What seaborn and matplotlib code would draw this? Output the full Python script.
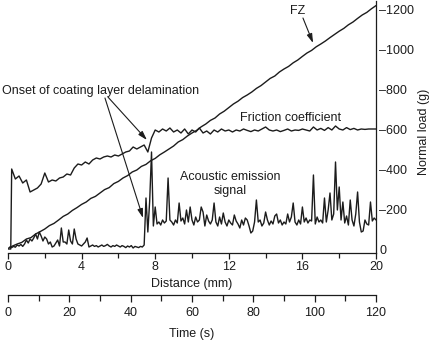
import numpy as np
import matplotlib
matplotlib.use("Agg")
import matplotlib.pyplot as plt
from matplotlib.ticker import MultipleLocator, FixedLocator
import seaborn as sns

# ---------------- data ----------------
# Normal load FZ (g), sampled every 0.25 mm from 0 to 20 mm
fz_dist = np.arange(0, 20.001, 0.25)
fz_load = [8, 20, 30, 38, 55, 62, 80, 92, 105, 122, 133, 150, 168, 180, 198, 212,
           228, 240, 258, 268, 285, 302, 312, 332, 343, 360, 372, 390, 400, 418,
           428, 446, 458, 476, 490, 505, 520, 540, 552, 570, 585, 598, 616, 630,
           648, 660, 680, 694, 712, 730, 744, 762, 775, 790, 808, 822, 840, 858,
           870, 890, 905, 918, 936, 950, 968, 985, 998, 1016, 1030, 1045, 1062,
           1078, 1094, 1108, 1126, 1140, 1158, 1175, 1188, 1206, 1222]

# Friction coefficient trace (plotted on the load scale)
fr_dist = [0.0, 0.15] + list(np.round(np.arange(0.2, 20.001, 0.2), 2))
fr_val = [5, 5,
          405, 355, 370, 335, 350, 290, 300, 310, 330, 385,
          340, 350, 345, 360, 365, 380, 375, 410, 430, 425,
          440, 430, 450, 460, 455, 465, 470, 465, 475, 470,
          480, 490, 495, 515, 505, 515, 525, 490, 560, 600,
          590, 605, 595, 610, 590, 600, 585, 605, 580, 600,
          590, 610, 585, 595, 580, 600, 590, 605, 595, 600,
          590, 600, 595, 605, 598, 592, 600, 595, 605, 615,
          600, 595, 600, 592, 598, 605, 595, 600, 598, 605,
          600, 595, 615, 600, 608, 598, 612, 600, 620, 605,
          600, 612, 602, 608, 600, 605, 603, 605, 605, 605]

# Acoustic emission signal, every 0.1 mm from 0.1 to 20 mm
ae_dist = np.round(np.arange(0.1, 20.001, 0.1), 2)
ae_val = [15, 12, 18, 14, 25, 20, 28, 18, 30, 50,
          35, 55, 45, 60, 80, 55, 90, 70, 45, 65,
          55, 30, 40, 15, 20, 35, 50, 20, 110, 40,
          40, 30, 100, 45, 30, 105, 55, 30, 25, 20,
          30, 40, 60, 15, 20, 25, 18, 22, 15, 20,
          25, 18, 22, 28, 20, 15, 22, 18, 25, 20,
          15, 22, 18, 12, 20, 15, 22, 10, 18, 15,
          12, 18, 15, 25, 260, 90, 245, 490, 120, 215,
          130, 140, 125, 150, 135, 145, 360, 150, 140, 125,
          150, 135, 235, 145, 160, 130, 200, 140, 215, 150,
          125, 165, 140, 150, 215, 190, 120, 175, 145, 130,
          150, 235, 140, 120, 165, 130, 185, 140, 120, 150,
          135, 125, 175, 145, 130, 110, 150, 125, 160, 150,
          120, 85, 95, 140, 250, 140, 150, 120, 135, 190,
          150, 125, 145, 130, 170, 180, 135, 150, 125, 140,
          130, 180, 140, 165, 235, 140, 125, 150, 130, 215,
          140, 160, 135, 150, 145, 375, 130, 165, 140, 150,
          135, 260, 140, 200, 285, 150, 180, 440, 200, 315,
          150, 240, 135, 170, 125, 250, 150, 120, 180, 290,
          140, 90, 95, 150, 130, 125, 240, 145, 160, 150]

load_ticks = [0, 200, 400, 600, 800, 1000, 1200]
load_labels = ["0", "–200", "–400", "–600", "–800", "–1000", "–1200"]
dist_ticks = [0, 4, 8, 12, 16, 20]
time_ticks = [0, 20, 40, 60, 80, 100, 120]

# ---------------- style ----------------
sns.set_style("white")
plt.rcParams["font.family"] = ["Liberation Sans", "DejaVu Sans"]
plt.rcParams["font.size"] = 9
INK = "#1c1c1c"
FS = 9

W, H = 432, 340
fig = plt.figure(figsize=(W / 100, H / 100), dpi=100)

def fx(px):
    return px / W

def fy(py):
    return 1 - py / H

ax = fig.add_axes([fx(8), fy(253), (376 - 8) / W, (253 - 1) / H])
ax.set_facecolor("none")

sns.lineplot(x=fz_dist, y=fz_load, ax=ax, color=INK, lw=1.0, estimator=None, sort=False)
sns.lineplot(x=fr_dist, y=fr_val, ax=ax, color=INK, lw=1.0, estimator=None, sort=False)
sns.lineplot(x=ae_dist, y=ae_val, ax=ax, color=INK, lw=1.0, estimator=None, sort=False)

ax.set_xlim(0, 20)
ax.set_ylim(-15, 1245)
for s in ["left", "top"]:
    ax.spines[s].set_visible(False)
for s in ["right", "bottom"]:
    ax.spines[s].set_color(INK)
    ax.spines[s].set_linewidth(0.9)

ax.yaxis.tick_right()
ax.yaxis.set_label_position("right")
ax.set_yticks(load_ticks)
ax.set_yticklabels(load_labels)
ax.tick_params(axis="y", length=0, pad=2.5, colors=INK, labelsize=FS)
ax.set_ylabel("Normal load (g)", color=INK, fontsize=FS)
ax.yaxis.set_label_coords((418 - 8) / (376 - 8), (253 - 132) / (253 - 1))

ax.set_xticks(dist_ticks)
ax.xaxis.set_minor_locator(FixedLocator([2, 6, 10, 14, 18]))
ax.tick_params(axis="x", which="major", direction="out", length=4.3, width=0.9,
               pad=1.5, colors=INK, labelsize=FS, bottom=True)
ax.tick_params(axis="x", which="minor", direction="out", length=3.3, width=0.9,
               colors=INK, bottom=True)
ax.set_xlabel("Distance (mm)", color=INK, labelpad=3.5, fontsize=FS)

# annotations
ax.text(-0.33, 795, "Onset of coating layer delamination", ha="left", va="center",
        color=INK, clip_on=False, fontsize=FS)
arrow = dict(arrowstyle="-|>,head_length=0.6,head_width=0.18", color=INK, lw=0.8,
             shrinkA=0, shrinkB=0)
ax.annotate("", xy=(7.34, 160), xytext=(5.27, 760), arrowprops=arrow)
ax.annotate("", xy=(7.55, 550), xytext=(5.43, 765), arrowprops=arrow)
ax.text(15.76, 1195, "FZ", ha="center", va="center", color=INK, fontsize=FS)
ax.annotate("", xy=(16.58, 1035), xytext=(16.03, 1160), arrowprops=arrow)
ax.text(15.38, 660, "Friction coefficient", ha="center", va="center", color=INK,
        fontsize=FS)
ax.text(12.07, 330, "Acoustic emission\nsignal", ha="center", va="center",
        color=INK, linespacing=1.25, fontsize=FS)

# time axis
axt = fig.add_axes([fx(8), fy(295), (376 - 8) / W, 0.0001])
axt.set_facecolor("none")
axt.set_xlim(0, 120)
axt.set_yticks([])
for s in ["left", "right", "top"]:
    axt.spines[s].set_visible(False)
axt.spines["bottom"].set_color(INK)
axt.spines["bottom"].set_linewidth(0.9)
axt.set_xticks(time_ticks)
axt.xaxis.set_minor_locator(MultipleLocator(10))
axt.tick_params(axis="x", which="major", direction="out", length=5, width=0.9,
                pad=4, colors=INK, labelsize=FS, bottom=True)
axt.tick_params(axis="x", which="minor", direction="out", length=4, width=0.9,
                colors=INK, bottom=True)
axt.set_xlabel("Time (s)", color=INK, labelpad=6, fontsize=FS)

fig.savefig("out.png", dpi=100)
